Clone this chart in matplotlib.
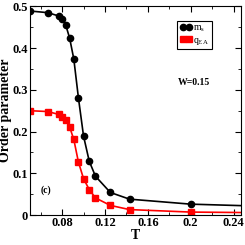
import matplotlib
matplotlib.use('Agg')
import matplotlib.pyplot as plt
from matplotlib.ticker import MultipleLocator

plt.rcParams['font.family'] = 'Liberation Serif'
plt.rcParams['mathtext.fontset'] = 'custom'
plt.rcParams['mathtext.rm'] = 'Liberation Serif'
plt.rcParams['mathtext.it'] = 'Liberation Serif'

# temperatures
T = [0.05, 0.0667, 0.0769, 0.08, 0.0833, 0.087, 0.0909, 0.0952, 0.1,
     0.1053, 0.1111, 0.125, 0.1429, 0.2, 0.3333]
ms = [0.489, 0.485, 0.477, 0.471, 0.456, 0.424, 0.374, 0.281, 0.189,
      0.129, 0.093, 0.054, 0.038, 0.026, 0.016]
qea = [0.250, 0.248, 0.241, 0.236, 0.228, 0.211, 0.181, 0.127, 0.087,
       0.061, 0.041, 0.023, 0.013, 0.007, 0.004]

fig = plt.figure(figsize=(2.45, 2.45), dpi=100)
ax = fig.add_axes([30/245, 30/245, 211/245, 209/245])

ax.plot(T, ms, '-o', color='black', lw=1.2, ms=4.5, label=r'$\mathrm{m_s}$')
ax.plot(T, qea, '-s', color='red', lw=1.2, ms=4, label=r'$\mathrm{q_{EA}}$')

ax.set_xlim(0.05, 0.247)
ax.set_ylim(0, 0.501)
ax.xaxis.set_minor_locator(MultipleLocator(0.02))
ax.yaxis.set_minor_locator(MultipleLocator(0.05))
ax.set_xticks([0.08, 0.12, 0.16, 0.2, 0.24])
ax.set_xticklabels(['0.08', '0.12', '0.16', '0.2', '0.24'])
ax.set_yticks([0, 0.1, 0.2, 0.3, 0.4, 0.5])
ax.set_yticklabels(['0', '0.1', '0.2', '0.3', '0.4', '0.5'])
ax.tick_params(which='both', direction='in', top=True, right=True, labelsize=9, pad=1.5)
ax.tick_params(which='major', length=4)
ax.tick_params(which='minor', length=2)
for lab in ax.get_xticklabels() + ax.get_yticklabels():
    lab.set_fontweight('bold')

ax.set_xlabel('T', fontsize=10, fontweight='bold', labelpad=0)
ax.set_ylabel('Order parameter', fontsize=10, fontweight='bold')
ax.yaxis.set_label_coords(-0.085, 0.5)

ax.text(0.7, 0.62, 'W=0.15', transform=ax.transAxes, fontsize=7, fontweight='bold')
ax.text(0.05, 0.105, '(c)', transform=ax.transAxes, fontsize=7, fontweight='bold')

leg = ax.legend(loc='upper right', bbox_to_anchor=(0.885, 0.95), fontsize=7,
                numpoints=2, handlelength=1.2, handletextpad=0.2,
                borderpad=0.25, labelspacing=0.15, fancybox=False, framealpha=1)
leg.get_frame().set_edgecolor('black')
leg.get_frame().set_linewidth(0.8)

plt.savefig('out.png', dpi=100)
